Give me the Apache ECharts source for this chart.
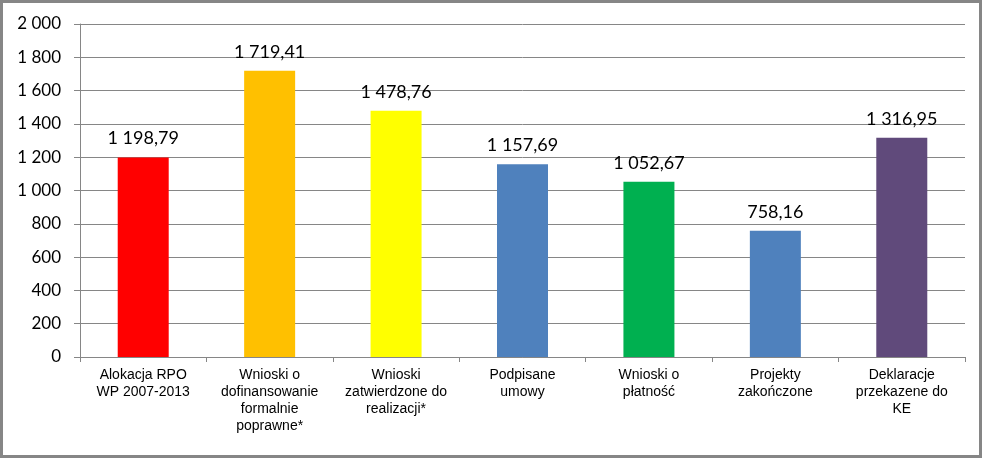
<!DOCTYPE html>
<html><head><meta charset="utf-8">
<script src="https://cdn.jsdelivr.net/npm/echarts@6/dist/echarts.min.js"></script>
<style>html,body{margin:0;padding:0;background:#fff}#c{width:982px;height:458px}</style>
</head><body><div id="c"></div>
<script>
const categories = ["Alokacja RPO\nWP 2007-2013","Wnioski o\ndofinansowanie\nformalnie\npoprawne*","Wnioski\nzatwierdzone do\nrealizacji*","Podpisane\numowy","Wnioski o\npłatność","Projekty\nzakończone","Deklaracje\nprzekazene do\nKE"];
const values = [1198.79, 1719.41, 1478.76, 1157.69, 1052.67, 758.16, 1316.95];
const colors = ["#FF0000","#FFC000","#FFFF00","#4F81BD","#00B050","#4F81BD","#604A7B"];
const yTicks = [0,200,400,600,800,1000,1200,1400,1600,1800,2000];

function fmtInt(v){return String(Math.round(v)).replace(/\B(?=(\d{3})+(?!\d))/g,' ');}
function fmtDec(v){const p=v.toFixed(2).split('.');return p[0].replace(/\B(?=(\d{3})+(?!\d))/g,' ')+','+p[1];}

const chart = echarts.init(document.getElementById('c'));
chart.setOption({
  animation:false,
  backgroundColor:'#fff',
  graphic:[{type:'rect',shape:{x:1.5,y:1.5,width:979,height:455},style:{fill:'none',stroke:'#868686',lineWidth:3},z:100}],
  grid:{left:80,right:17,top:24,bottom:101},
  xAxis:{type:'category',data:categories,
    axisLine:{lineStyle:{color:'#868686',width:1}},
    axisTick:{show:true,alignWithLabel:false,length:5,lineStyle:{color:'#868686'}},
    axisLabel:{interval:0,color:'#000',fontFamily:'Liberation Sans',fontSize:14,lineHeight:17,margin:10}
  },
  yAxis:{type:'value',min:yTicks[0],max:yTicks[yTicks.length-1],interval:yTicks[1]-yTicks[0],
    axisLine:{show:true,lineStyle:{color:'#868686'}},
    axisTick:{show:true,length:6,lineStyle:{color:'#868686'}},
    splitLine:{lineStyle:{color:'#868686',width:1}},
    axisLabel:{color:'#000',fontFamily:'Lato',fontSize:17,margin:19,formatter:v=>fmtInt(v)}
  },
  series:[{type:'bar',barWidth:51,
    data:values.map((v,i)=>({value:v,itemStyle:{color:colors[i]}})),
    label:{show:true,position:'top',distance:10,color:'#000',fontFamily:'Lato',fontSize:18,formatter:p=>fmtDec(p.value)}
  }]
});
</script></body></html>
